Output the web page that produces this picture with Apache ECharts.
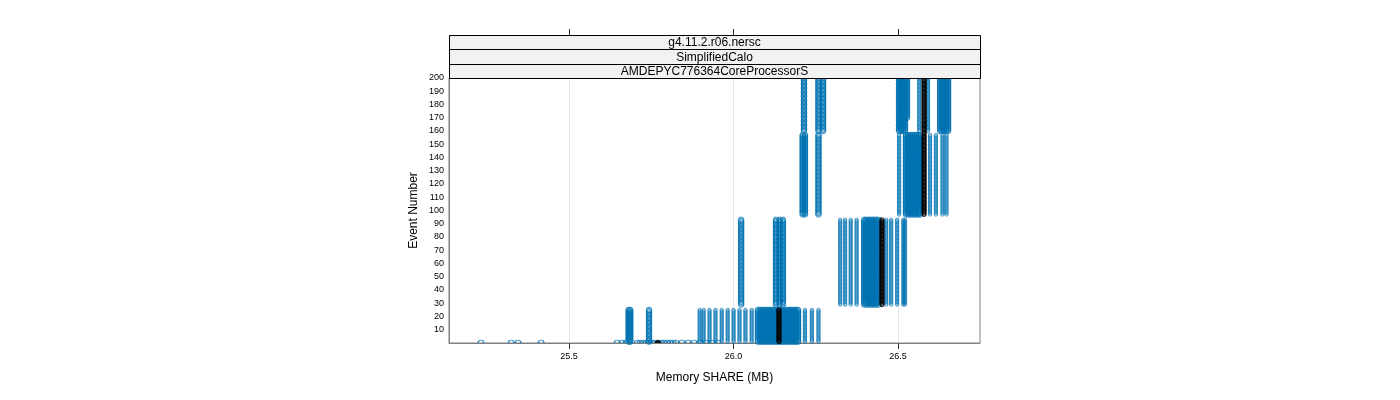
<!DOCTYPE html>
<html>
<head>
<meta charset="utf-8">
<script src="https://cdn.jsdelivr.net/npm/echarts@6/dist/echarts.min.js"></script>
<style>html,body{margin:0;padding:0;background:#fff;}#chart{width:1400px;height:400px;}</style>
</head>
<body>
<div id="chart"></div>
<script>
// ---- data (Memory SHARE in MB, per event ranges) ----
const stripLabels = ['g4.11.2.r06.nersc', 'SimplifiedCalo', 'AMDEPYC776364CoreProcessorS'];
const xTickValues = [25.5, 26.0, 26.5];

// event 0 (initialisation) values
const sharesEvent0 = [25.232, 25.324, 25.345, 25.415, 25.646, 25.661, 25.673, 25.707, 25.716, 25.725,
  25.734, 25.743, 25.752, 25.761, 25.770, 25.780, 25.789, 25.798, 25.807, 25.816, 25.825, 25.843,
  25.862, 25.880, 25.898, 25.916, 25.935, 25.953];

// events 1..25
const eventsA = [1, 25];
const sharesA = [25.681, 25.686, 25.743, 26.074, 26.081, 26.087, 26.093, 26.099, 26.105, 26.111,
  26.117, 26.123, 26.129, 26.135, 26.141, 26.147, 26.153, 26.160, 26.166, 26.172, 26.178, 26.184,
  26.190, 26.196];
const sharesASparse = [25.897, 25.909, 25.927, 25.945, 25.964, 25.982, 26.000, 26.018, 26.036, 26.055,
  26.217, 26.238, 26.258];

// events 29..93
const eventsB = [29, 93];
const sharesB = [26.023, 26.129, 26.140, 26.150, 26.397, 26.403, 26.410, 26.416, 26.422, 26.428,
  26.434, 26.441];
const sharesBSparse = [26.324, 26.339, 26.356, 26.374, 26.464, 26.479, 26.497, 26.516, 26.521];

// events 97..157
const eventsC = [97, 157];
const sharesC = [26.210, 26.217, 26.258, 26.524, 26.530, 26.536, 26.542, 26.549, 26.555, 26.561, 26.567];
const sharesCSparse = [26.503, 26.597, 26.615, 26.635, 26.647];

// events 160..200
const eventsD = [160, 200];
const sharesD = [26.214, 26.258, 26.272, 26.503, 26.509, 26.515, 26.521, 26.628, 26.634, 26.640,
  26.646, 26.652];
const sharesDSparse = [26.564, 26.591];

// events 170..200
const eventsD2 = [170, 200];
const sharesD2 = [26.527];

// highlighted (black) run
const blackEvent0 = [25.770];
const blackSharesRuns = [26.138, 26.451, 26.579];
const blackEventRuns = [[1, 25], [29, 93], [97, 200]];

// ---- build points ----
function expand(shares, range) {
  const pts = [];
  for (const s of shares) for (let e = range[0]; e <= range[1]; e++) pts.push([s, e]);
  return pts;
}
const bluePts = [].concat(
  expand(sharesA, eventsA), expand(sharesB, eventsB), expand(sharesC, eventsC),
  expand(sharesD, eventsD), expand(sharesD2, eventsD2));
const blueSparsePts = [].concat(
  expand(sharesASparse, eventsA), expand(sharesBSparse, eventsB),
  expand(sharesCSparse, eventsC), expand(sharesDSparse, eventsD));
let blackPts = [];
blackSharesRuns.forEach((s, i) => { blackPts = blackPts.concat(expand([s], blackEventRuns[i])); });
const blue0 = sharesEvent0.map(s => [s, 0]);
const black0 = blackEvent0.map(s => [s, 0]);

const BLUE = '#0072B2';
const FONT = 'Liberation Sans, Arial, sans-serif';
const halfCircle = 'path://M0,10 A10,10 0 0 1 20,10';

const L = 449, R = 980, T = 78, B = 343;
const stripEdges = [35, 49, 64, 78];

const graphics = [];
stripLabels.forEach((txt, i) => {
  const y0 = stripEdges[i], y1 = stripEdges[i + 1];
  graphics.push({
    type: 'rect', z: 10,
    shape: { x: L + 0.5, y: y0 + 0.5, width: R - L, height: y1 - y0 },
    style: { fill: '#f2f2f2', stroke: '#000', lineWidth: 1 }
  });
  graphics.push({
    type: 'text', z: 11,
    x: (L + R) / 2, y: (y0 + y1) / 2 + 1,
    style: { text: txt, fill: '#000', font: '12px ' + FONT, textAlign: 'center', textVerticalAlign: 'middle' }
  });
});

const chart = echarts.init(document.getElementById('chart'), null, { renderer: 'canvas' });
chart.setOption({
  animation: false,
  backgroundColor: '#fff',
  grid: { left: L, right: 1400 - R, top: T, bottom: 400 - B, show: true, borderColor: '#808080', borderWidth: 1, backgroundColor: 'transparent' },
  graphic: graphics,
  xAxis: [{
    type: 'value', min: 25.135, max: 26.749,
    name: 'Memory SHARE (MB)', nameLocation: 'middle', nameGap: 29,
    nameTextStyle: { fontFamily: FONT, fontSize: 12, color: '#000' },
    axisLine: { show: true, lineStyle: { color: '#808080', width: 1 } },
    axisTick: { show: true, length: 6, customValues: xTickValues, lineStyle: { color: '#333' } },
    axisLabel: { customValues: xTickValues, fontFamily: FONT, fontSize: 9, color: '#000', margin: 9,
      formatter: v => v.toFixed(1) },
    splitLine: { show: true, customValues: xTickValues, lineStyle: { color: '#e6e6e6', width: 1 } }
  }, {
    type: 'value', min: 25.135, max: 26.749, position: 'top', offset: T - 35,
    axisLine: { show: false },
    axisTick: { show: true, length: 6, customValues: xTickValues, lineStyle: { color: '#333' } },
    axisLabel: { show: false, customValues: xTickValues },
    splitLine: { show: false }
  }],
  yAxis: {
    type: 'value', min: 0, max: 200, interval: 10,
    name: 'Event Number', nameLocation: 'middle', nameGap: 29, nameRotate: 90,
    nameTextStyle: { fontFamily: FONT, fontSize: 12, color: '#000' },
    axisLine: { show: true, lineStyle: { color: '#808080', width: 1 } },
    axisTick: { show: false },
    axisLabel: { fontFamily: FONT, fontSize: 9, color: '#000', margin: 5,
      formatter: v => (v === 0 ? '' : String(v)) },
    splitLine: { show: false }
  },
  series: [{
    type: 'scatter', data: blueSparsePts, symbol: 'circle', symbolSize: 3.4,
    progressive: 0, large: false, silent: true, z: 2,
    itemStyle: { color: 'rgba(0,0,0,0)', borderColor: BLUE, borderWidth: 0.8, opacity: 0.85 }
  }, {
    type: 'scatter', data: bluePts, symbol: 'circle', symbolSize: 5.5,
    progressive: 0, large: false, silent: true, z: 2,
    itemStyle: { color: 'rgba(0,0,0,0)', borderColor: BLUE, borderWidth: 1 }
  }, {
    type: 'scatter', data: blue0, symbol: halfCircle, symbolSize: [5.5, 2.75], symbolOffset: [0, -1.4],
    progressive: 0, silent: true, z: 2,
    itemStyle: { color: 'rgba(0,0,0,0)', borderColor: BLUE, borderWidth: 1 }
  }, {
    type: 'scatter', data: blackPts, symbol: 'circle', symbolSize: 4,
    progressive: 0, silent: true, z: 3,
    itemStyle: { color: 'rgba(0,0,0,0)', borderColor: '#000', borderWidth: 1.2 }
  }, {
    type: 'scatter', data: black0, symbol: halfCircle, symbolSize: [4.5, 2.5], symbolOffset: [0, -1.3],
    progressive: 0, silent: true, z: 3,
    itemStyle: { color: '#000', borderColor: '#000', borderWidth: 1.2 }
  }]
});
</script>
</body>
</html>
